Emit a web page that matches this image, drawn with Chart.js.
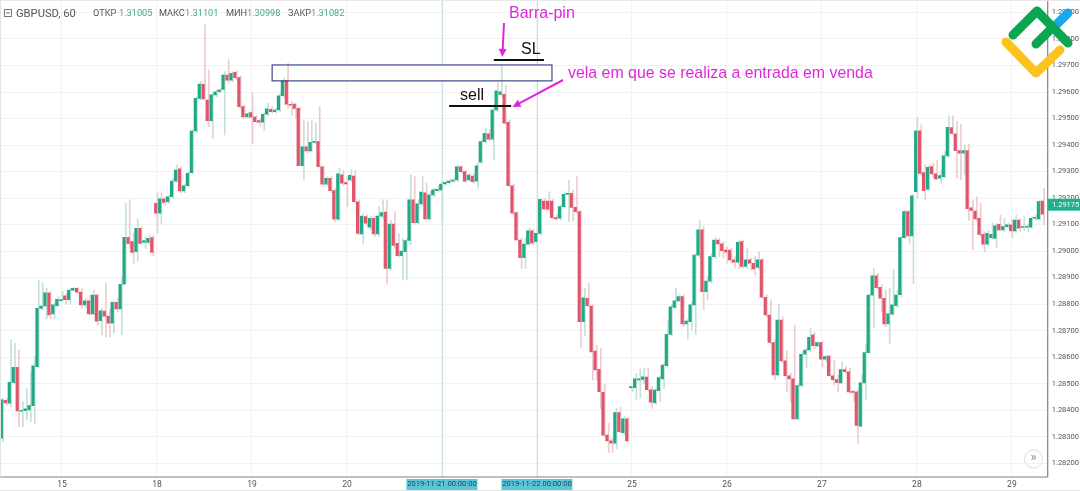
<!DOCTYPE html>
<html>
<head>
<meta charset="utf-8">
<title>GBPUSD, 60</title>
<script src="https://cdn.jsdelivr.net/npm/chart.js@4"></script>
<style>
html, body { margin: 0; padding: 0; background: #fff; overflow: hidden; }
#chart { display: block; }
</style>
</head>
<body>
<canvas id="chart" width="1080" height="491"></canvas>
<script>
// hourly candles
var opens = [
1.28294,1.28437,1.28426,1.28505,1.28562,1.28396,1.28398,1.28401,1.28417,1.28564,
1.28784,1.28793,1.28843,1.28763,1.28794,1.28813,1.28831,1.28817,1.28853,1.28860,
1.28845,1.28797,1.28812,1.28763,1.28834,1.28738,1.28774,1.28755,1.28728,1.28807,
1.28782,1.28875,1.29052,1.29036,1.28998,1.29086,1.29033,1.29033,1.29051,1.29180,
1.29143,1.29197,1.29186,1.29205,1.29264,1.29310,1.29227,1.29247,1.29296,1.29453,
1.29576,1.29629,1.29570,1.29492,1.29589,1.29601,1.29610,1.29664,1.29645,1.29674,
1.29654,1.29545,1.29506,1.29522,1.29505,1.29492,1.29486,1.29516,1.29535,1.29526,
1.29532,1.29586,1.29642,1.29553,1.29554,1.29538,1.29322,1.29393,1.29378,1.29410,
1.29413,1.29318,1.29252,1.29274,1.29228,1.29120,1.29288,1.29258,1.29268,1.29283,
1.29186,1.29065,1.29130,1.29090,1.29124,1.29065,1.29132,1.29147,1.28935,1.29102,
1.29029,1.28983,1.28998,1.29040,1.29193,1.29107,1.29178,1.29220,1.29121,1.29212,
1.29228,1.29231,1.29253,1.29258,1.29264,1.29268,1.29318,1.29300,1.29268,1.29283,
1.29264,1.29335,1.29413,1.29442,1.29422,1.29532,1.29591,1.29591,1.29486,1.29246,
1.29145,1.29042,1.28975,1.29026,1.29076,1.29036,1.29067,1.29189,1.29189,1.29189,
1.29126,1.29124,1.29168,1.29214,1.29218,1.29165,1.29149,1.28734,1.28822,1.28793,
1.28623,1.28554,1.28467,1.28306,1.28284,1.28276,1.28391,1.28315,1.28367,1.28485,
1.28485,1.28514,1.28516,1.28525,1.28477,1.28428,1.28474,1.28518,1.28568,1.28686,
1.28788,1.28812,1.28828,1.28725,1.28734,1.28797,1.28985,1.29080,1.28847,1.28887,
1.28979,1.29042,1.29027,1.29004,1.29004,1.28967,1.28958,1.29036,1.28942,1.28967,
1.28954,1.28938,1.28967,1.28826,1.28759,1.28655,1.28533,1.28740,1.28586,1.28530,
1.28518,1.28367,1.28493,1.28611,1.28627,1.28684,1.28642,1.28655,1.28592,1.28604,
1.28530,1.28515,1.28503,1.28553,1.28545,1.28469,1.28469,1.28340,1.28503,1.28617,
1.28834,1.28907,1.28863,1.28822,1.28725,1.28762,1.28794,1.28836,1.29051,1.29149,
1.29057,1.29224,1.29454,1.29296,1.29234,1.29319,1.29291,1.29275,1.29281,1.29359,
1.29466,1.29442,1.29379,1.29369,1.29379,1.29163,1.29151,1.29124,1.29063,1.29026,
1.29051,1.29048,1.29101,1.29080,1.29092,1.29099,1.29076,1.29117,1.29089,1.29090,
1.29090,1.29124,1.29121,1.29189];
var closes = [
1.28439,1.28427,1.28505,1.28562,1.28397,1.28398,1.28405,1.28417,1.28567,1.28784,
1.28793,1.28843,1.28759,1.28797,1.28818,1.28817,1.28817,1.28853,1.28860,1.28845,
1.28797,1.28812,1.28763,1.28834,1.28736,1.28775,1.28755,1.28728,1.28807,1.28782,
1.28875,1.29052,1.29029,1.28995,1.29086,1.29029,1.29040,1.29048,1.28995,1.29143,
1.29197,1.29184,1.29205,1.29264,1.29306,1.29227,1.29246,1.29293,1.29453,1.29576,
1.29630,1.29574,1.29492,1.29589,1.29601,1.29608,1.29664,1.29645,1.29670,1.29654,
1.29545,1.29506,1.29518,1.29505,1.29488,1.29486,1.29516,1.29537,1.29526,1.29532,
1.29586,1.29642,1.29554,1.29550,1.29538,1.29322,1.29393,1.29378,1.29410,1.29413,
1.29318,1.29252,1.29274,1.29228,1.29120,1.29291,1.29256,1.29253,1.29286,1.29186,
1.29067,1.29132,1.29105,1.29124,1.29065,1.29132,1.29145,1.28935,1.29102,1.29021,
1.28983,1.29000,1.29040,1.29193,1.29107,1.29178,1.29223,1.29121,1.29212,1.29231,
1.29233,1.29253,1.29259,1.29264,1.29268,1.29318,1.29300,1.29264,1.29287,1.29262,
1.29322,1.29413,1.29444,1.29422,1.29532,1.29604,1.29601,1.29482,1.29247,1.29143,
1.29042,1.28975,1.29026,1.29076,1.29030,1.29067,1.29195,1.29159,1.29158,1.29126,
1.29121,1.29168,1.29214,1.29218,1.29165,1.29149,1.28734,1.28824,1.28794,1.28620,
1.28552,1.28470,1.28306,1.28284,1.28276,1.28391,1.28319,1.28367,1.28284,1.28489,
1.28518,1.28518,1.28526,1.28477,1.28430,1.28476,1.28523,1.28570,1.28686,1.28790,
1.28812,1.28828,1.28725,1.28736,1.28797,1.28985,1.29080,1.28847,1.28887,1.28979,
1.29042,1.29027,1.29002,1.28996,1.28967,1.28958,1.29033,1.28942,1.28967,1.28954,
1.28933,1.28967,1.28826,1.28759,1.28656,1.28533,1.28740,1.28586,1.28530,1.28518,
1.28367,1.28493,1.28611,1.28627,1.28675,1.28643,1.28655,1.28592,1.28602,1.28530,
1.28515,1.28505,1.28553,1.28545,1.28469,1.28467,1.28343,1.28503,1.28617,1.28834,
1.28907,1.28862,1.28822,1.28725,1.28763,1.28797,1.28834,1.29051,1.29149,1.29057,
1.29208,1.29454,1.29293,1.29228,1.29316,1.29291,1.29272,1.29285,1.29359,1.29467,
1.29444,1.29379,1.29369,1.29379,1.29160,1.29153,1.29121,1.29063,1.29026,1.29067,
1.29063,1.29095,1.29080,1.29092,1.29099,1.29076,1.29117,1.29086,1.29092,1.29092,
1.29124,1.29125,1.29187,1.29139];
var highs = [
1.28445,1.28445,1.28665,1.28652,1.28627,1.28432,1.28482,1.28545,1.28602,1.28891,
1.28878,1.28860,1.28847,1.28803,1.28828,1.28847,1.28841,1.28860,1.28863,1.28862,
1.28860,1.28822,1.28834,1.28853,1.28837,1.28784,1.28878,1.28784,1.28812,1.28822,
1.28904,1.29180,1.29193,1.29067,1.29120,1.29092,1.29055,1.29061,1.29061,1.29220,
1.29218,1.29205,1.29212,1.29275,1.29325,1.29318,1.29253,1.29300,1.29457,1.29582,
1.29639,1.29853,1.29683,1.29595,1.29608,1.29613,1.29677,1.29721,1.29677,1.29680,
1.29660,1.29551,1.29526,1.29598,1.29513,1.29501,1.29522,1.29557,1.29545,1.29538,
1.29595,1.29652,1.29708,1.29564,1.29557,1.29542,1.29494,1.29488,1.29492,1.29484,
1.29545,1.29321,1.29281,1.29281,1.29237,1.29312,1.29306,1.29281,1.29306,1.29303,
1.29193,1.29143,1.29136,1.29130,1.29130,1.29168,1.29193,1.29193,1.29117,1.29149,
1.29067,1.29048,1.29048,1.29287,1.29281,1.29193,1.29281,1.29256,1.29224,1.29237,
1.29243,1.29262,1.29268,1.29272,1.29275,1.29325,1.29322,1.29306,1.29293,1.29291,
1.29331,1.29419,1.29463,1.29457,1.29545,1.29635,1.29702,1.29626,1.29494,1.29253,
1.29149,1.29048,1.29048,1.29086,1.29082,1.29080,1.29199,1.29199,1.29224,1.29195,
1.29136,1.29174,1.29224,1.29268,1.29231,1.29283,1.29155,1.28860,1.28878,1.28799,
1.28646,1.28633,1.28498,1.28350,1.28294,1.28407,1.28413,1.28376,1.28372,1.28490,
1.28539,1.28555,1.28558,1.28560,1.28489,1.28482,1.28530,1.28577,1.28740,1.28797,
1.28860,1.28834,1.28834,1.28744,1.28807,1.28992,1.29117,1.29092,1.28904,1.28992,
1.29052,1.29048,1.29036,1.29017,1.29011,1.28979,1.29042,1.29042,1.29011,1.28973,
1.28979,1.28998,1.28973,1.28835,1.28816,1.28665,1.28799,1.28753,1.28623,1.28539,
1.28721,1.28501,1.28621,1.28633,1.28709,1.28694,1.28658,1.28661,1.28608,1.28608,
1.28589,1.28533,1.28583,1.28564,1.28558,1.28476,1.28476,1.28533,1.28650,1.28837,
1.28935,1.28916,1.28872,1.28853,1.28860,1.28929,1.28853,1.29057,1.29155,1.29155,
1.29214,1.29505,1.29476,1.29325,1.29325,1.29331,1.29341,1.29306,1.29375,1.29510,
1.29510,1.29488,1.29479,1.29400,1.29404,1.29193,1.29205,1.29180,1.29073,1.29077,
1.29107,1.29105,1.29136,1.29124,1.29105,1.29120,1.29136,1.29124,1.29130,1.29099,
1.29130,1.29136,1.29193,1.29237];
var lows = [
1.28281,1.28420,1.28413,1.28501,1.28338,1.28338,1.28363,1.28357,1.28350,1.28560,
1.28778,1.28744,1.28744,1.28744,1.28790,1.28809,1.28803,1.28799,1.28851,1.28841,
1.28784,1.28790,1.28759,1.28759,1.28721,1.28684,1.28677,1.28675,1.28690,1.28772,
1.28684,1.28875,1.29010,1.28954,1.28960,1.29023,1.29010,1.29023,1.28983,1.29067,
1.29102,1.29174,1.29180,1.29199,1.29262,1.29220,1.29220,1.29243,1.29293,1.29447,
1.29570,1.29570,1.29469,1.29425,1.29582,1.29598,1.29438,1.29633,1.29639,1.29648,
1.29538,1.29501,1.29501,1.29406,1.29482,1.29469,1.29454,1.29510,1.29520,1.29520,
1.29526,1.29580,1.29538,1.29513,1.29501,1.29322,1.29268,1.29371,1.29375,1.29404,
1.29316,1.29243,1.29246,1.29220,1.29111,1.29115,1.29249,1.29168,1.29262,1.29180,
1.29061,1.29029,1.29092,1.29080,1.29055,1.29055,1.29124,1.28875,1.28929,1.29010,
1.28979,1.28891,1.28891,1.29023,1.29102,1.29102,1.29174,1.29117,1.29117,1.29205,
1.29223,1.29111,1.29248,1.29253,1.29258,1.29262,1.29293,1.29259,1.29262,1.29256,
1.29237,1.29331,1.29409,1.29417,1.29344,1.29526,1.29582,1.29479,1.29243,1.29140,
1.29040,1.28935,1.28935,1.29021,1.29023,1.29029,1.29061,1.29153,1.29153,1.29121,
1.29117,1.29117,1.29161,1.29111,1.29115,1.29143,1.28636,1.28681,1.28790,1.28514,
1.28514,1.28407,1.28300,1.28241,1.28241,1.28254,1.28313,1.28309,1.28281,1.28470,
1.28438,1.28445,1.28501,1.28472,1.28407,1.28422,1.28432,1.28482,1.28564,1.28681,
1.28784,1.28809,1.28715,1.28667,1.28702,1.28686,1.28973,1.28778,1.28816,1.28879,
1.28973,1.28979,1.28973,1.28954,1.28954,1.28935,1.28933,1.28935,1.28935,1.28929,
1.28910,1.28929,1.28822,1.28753,1.28650,1.28514,1.28530,1.28581,1.28470,1.28432,
1.28363,1.28363,1.28489,1.28560,1.28621,1.28633,1.28640,1.28564,1.28583,1.28526,
1.28495,1.28470,1.28498,1.28539,1.28464,1.28432,1.28275,1.28338,1.28442,1.28614,
1.28712,1.28857,1.28772,1.28715,1.28652,1.28757,1.28788,1.28828,1.29048,1.29030,
1.28878,1.29199,1.29287,1.29195,1.29231,1.29281,1.29268,1.29256,1.29277,1.29354,
1.29441,1.29275,1.29268,1.29287,1.29115,1.29004,1.29115,1.29055,1.28998,1.29021,
1.29045,1.29013,1.29076,1.29073,1.29086,1.29051,1.29070,1.29073,1.29077,1.29073,
1.29086,1.29117,1.29117,1.29099];

// candle index where each day starts, and its label
var dayIndex = [15, 39, 63, 87, 111, 135, 159, 183, 207, 231, 255];
var dayLabels = ["15", "18", "19", "20", "21", "22", "25", "26", "27", "28", "29"];
var priceTicks = [1.282, 1.283, 1.284, 1.285, 1.286, 1.287, 1.288, 1.289, 1.29, 1.291, 1.292, 1.293, 1.294, 1.295, 1.296, 1.297, 1.298, 1.299];
var crossIndex = [111, 135];
var crossLabels = ["2019-11-21 00:00:00", "2019-11-22 00:00:00"];
var lastPrice = 1.29175;
var headerItems = [
    ["ОТКР", "1.31005", 93, 119],
    ["МАКС", "1.31101", 159, 185],
    ["МИН", "1.30998", 226, 247],
    ["ЗАКР", "1.31082", 288, 311]
];

var UP = "#1fa987", DOWN = "#e0556a";
var UP_WICK = "#c4e0d7", DOWN_WICK = "#ecccd1";
var PINK = "#e026dc";

var bodies = [], wicks = [], bodyColors = [], wickColors = [];
for (var i = 0; i < opens.length; i++) {
    bodies.push({ x: i, y: [opens[i], closes[i]] });
    wicks.push({ x: i, y: [lows[i], highs[i]] });
    bodyColors.push(closes[i] >= opens[i] ? UP : DOWN);
    wickColors.push(closes[i] >= opens[i] ? UP_WICK : DOWN_WICK);
}

function txt(c, s, x, y, color, font, align) {
    c.fillStyle = color;
    c.font = font;
    c.textAlign = align || "left";
    c.textBaseline = "middle";
    c.fillText(s, x, y);
}

function seg(c, x1, y1, x2, y2, color, w) {
    c.strokeStyle = color;
    c.lineWidth = w;
    c.beginPath();
    c.moveTo(x1, y1);
    c.lineTo(x2, y2);
    c.stroke();
}

function arrow(c, x1, y1, x2, y2) {
    var a = Math.atan2(y2 - y1, x2 - x1);
    seg(c, x1, y1, x2 - 6 * Math.cos(a), y2 - 6 * Math.sin(a), PINK, 2);
    c.fillStyle = PINK;
    c.beginPath();
    c.moveTo(x2, y2);
    c.lineTo(x2 - 9 * Math.cos(a - 0.45), y2 - 9 * Math.sin(a - 0.45));
    c.lineTo(x2 - 9 * Math.cos(a + 0.45), y2 - 9 * Math.sin(a + 0.45));
    c.closePath();
    c.fill();
}

// stuff under the candles: day cross lines and the zone box
var underPlugin = {
    id: "under",
    beforeDatasetsDraw: function (chart) {
        var c = chart.ctx, x = chart.scales.x, y = chart.scales.y;
        c.save();
        crossIndex.forEach(function (k) {
            var px = Math.round(x.getPixelForValue(k)) + 0.5;
            seg(c, px, 0, px, chart.chartArea.bottom, "#c9e1e7", 1);
        });
        var left = x.getPixelForValue(68.1), right = x.getPixelForValue(138.8);
        var top = y.getPixelForValue(1.29702), bot = y.getPixelForValue(1.29642);
        c.fillStyle = "#fefefa";
        c.fillRect(left, top, right - left, bot - top);
        c.restore();
    },
    afterDatasetsDraw: function (chart) {
        var c = chart.ctx, x = chart.scales.x, y = chart.scales.y;
        c.save();
        var left = x.getPixelForValue(68.1), right = x.getPixelForValue(138.8);
        var top = y.getPixelForValue(1.29702), bot = y.getPixelForValue(1.29642);
        c.strokeStyle = "#3d4792";
        c.lineWidth = 1.2;
        c.strokeRect(left, top, right - left, bot - top);
        seg(c, x.getPixelForValue(124.1), y.getPixelForValue(1.29721), x.getPixelForValue(136.8), y.getPixelForValue(1.29721), "#111", 2);
        seg(c, x.getPixelForValue(112.8), y.getPixelForValue(1.29547), x.getPixelForValue(128.5), y.getPixelForValue(1.29547), "#111", 2);
        c.restore();
    }
};

// header, notes, logo, price tag
var overPlugin = {
    id: "over",
    afterDraw: function (chart) {
        var c = chart.ctx, x = chart.scales.x, y = chart.scales.y;
        var area = chart.chartArea;
        c.save();

        // axis borders
        seg(c, area.right, 0, area.right, area.bottom, "#808080", 1.2);
        seg(c, 0, area.bottom, area.right, area.bottom, "#808080", 1.2);
        seg(c, 0.5, 0, 0.5, area.bottom, "#e4e4e4", 1);
        seg(c, 0, 0.5, 1080, 0.5, "#e8e8e8", 1);
        seg(c, 0, 490.5, 1080, 490.5, "#e4e4e4", 1);

        // header
        c.strokeStyle = "#777";
        c.lineWidth = 1;
        c.strokeRect(4.5, 9.5, 7, 7);
        seg(c, 6, 13, 10, 13, "#777", 1);
        txt(c, "GBPUSD, 60", 16, 14, "#555", "11.2px Roboto");
        headerItems.forEach(function (h) {
            txt(c, h[0], h[2], 14, "#555", "9.2px Roboto");
            txt(c, h[1], h[3], 14, "#3fa98f", "9.2px Roboto");
        });

        // date tags on the time axis
        crossIndex.forEach(function (k, n) {
            var px = x.getPixelForValue(k);
            c.fillStyle = "#5cc5d9";
            c.fillRect(px - 35.5, 479, 71, 11);
            txt(c, crossLabels[n], px, 484.5, "#174652", "7.6px Roboto", "center");
        });

        // notes
        txt(c, "Barra-pin", 509, 14, PINK, "16px 'Liberation Sans'");
        txt(c, "SL", 521, 49.5, "#111", "16px 'Liberation Sans'");
        txt(c, "sell", 460, 95.5, "#111", "16px 'Liberation Sans'");
        txt(c, "vela em que se realiza a entrada em venda", 568, 74, PINK, "15.9px 'Liberation Sans'");
        arrow(c, 504, 23, 502.3, 57);
        arrow(c, 563, 80, 512.5, 107);

        // last price tag
        var py = y.getPixelForValue(lastPrice);
        c.fillStyle = "#1fb08c";
        c.fillRect(area.right, py - 6, 1080 - area.right, 12);
        txt(c, lastPrice.toFixed(5), 1052, py + 0.5, "#fff", "7.5px Roboto");

        // scroll button
        c.strokeStyle = "#dcdcdc";
        c.lineWidth = 1;
        c.beginPath();
        c.arc(1033.5, 459, 9, 0, Math.PI * 2);
        c.stroke();
        txt(c, "»", 1033.5, 458, "#888", "13px Roboto", "center");

        // logo
        c.lineCap = "round";
        c.lineJoin = "round";
        c.lineWidth = 9;
        seg(c, 1056, 25, 1068, 13, "#1aa7ee", 9);
        c.strokeStyle = "#fcc31e";
        c.beginPath();
        c.moveTo(1006, 42);
        c.lineTo(1036, 73);
        c.lineTo(1060, 50);
        c.stroke();
        c.strokeStyle = "#0aa650";
        c.beginPath();
        c.moveTo(1013, 35);
        c.lineTo(1037, 11);
        c.lineTo(1068, 43);
        c.stroke();
        seg(c, 1036, 44, 1052, 28, "#0aa650", 9);
        c.restore();
    }
};

var chart = new Chart(document.getElementById("chart"), {
    type: "bar",
    data: {
        datasets: [
            { label: "body", data: bodies, backgroundColor: bodyColors, barThickness: 2.5, minBarLength: 1, order: 1 },
            { label: "wick", data: wicks, backgroundColor: wickColors, barThickness: 1, order: 2 }
        ]
    },
    options: {
        responsive: false,
        animation: false,
        devicePixelRatio: 1,
        layout: { padding: 0 },
        plugins: { legend: { display: false }, title: { display: false }, tooltip: { enabled: false } },
        scales: {
            x: {
                type: "linear",
                offset: false,
                stacked: false,
                min: -0.657,
                max: 264.05,
                border: { display: false },
                grid: { offset: false, color: "#f2f2f2", drawTicks: false },
                afterBuildTicks: function (s) {
                    s.ticks = dayIndex.map(function (v) { return { value: v }; });
                },
                afterFit: function (s) {
                    s.height = 14;
                    s.paddingLeft = 0;
                    s.paddingRight = 0;
                },
                ticks: {
                    autoSkip: false,
                    maxRotation: 0,
                    padding: 3,
                    color: "#555",
                    font: { family: "Roboto", size: 8.5 },
                    callback: function (v) { return dayLabels[dayIndex.indexOf(v)]; }
                }
            },
            y: {
                position: "right",
                min: 1.28148,
                max: 1.29947,
                border: { display: false },
                grid: { color: "#f2f2f2", drawTicks: false },
                afterBuildTicks: function (s) {
                    s.ticks = priceTicks.map(function (v) { return { value: v }; });
                },
                afterFit: function (s) {
                    s.width = 32.3;
                    s.paddingTop = 0;
                    s.paddingBottom = 0;
                },
                ticks: {
                    padding: 4,
                    color: "#555",
                    font: { family: "Roboto", size: 7.5 },
                    callback: function (v) { return v.toFixed(5); }
                }
            }
        }
    },
    plugins: [underPlugin, overPlugin]
});
</script>
</body>
</html>
